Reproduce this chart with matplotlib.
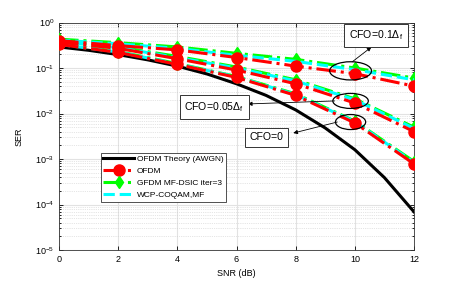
import numpy as np
import matplotlib
matplotlib.use("Agg")
import matplotlib.pyplot as plt
from matplotlib.patches import Ellipse
from matplotlib.ticker import LogLocator, NullFormatter

plt.rcParams['font.family'] = ['Liberation Sans', 'DejaVu Sans']
plt.rcParams['mathtext.fontset'] = 'custom'
plt.rcParams['mathtext.rm'] = 'Liberation Sans'
plt.rcParams['mathtext.it'] = 'Liberation Sans'

# theory curve (read at every dB)
snr_theory = [0, 1, 2, 3, 4, 5, 6, 7, 8, 9, 10, 11, 12]
ser_theory = [0.29, 0.245, 0.197, 0.151, 0.110, 0.074, 0.045, 0.025,
              0.012, 0.0048, 0.0016, 0.00039, 0.000069]

snr = [0, 2, 4, 6, 8, 10, 12]

# CFO = 0
ofdm_0 = [0.33, 0.22, 0.12, 0.062, 0.025, 0.0062, 0.00078]
gfdm_0 = [0.34, 0.23, 0.125, 0.065, 0.027, 0.0068, 0.00088]
wcp_0 = [0.33, 0.225, 0.123, 0.064, 0.026, 0.0066, 0.00084]

# CFO = 0.05 Df
ofdm_05 = [0.37, 0.27, 0.16, 0.09, 0.045, 0.017, 0.0040]
gfdm_05 = [0.39, 0.29, 0.18, 0.105, 0.055, 0.021, 0.0050]
wcp_05 = [0.38, 0.28, 0.17, 0.10, 0.052, 0.020, 0.0047]

# CFO = 0.1 Df
ofdm_1 = [0.40, 0.31, 0.25, 0.17, 0.11, 0.075, 0.040]
gfdm_1 = [0.43, 0.36, 0.29, 0.21, 0.155, 0.10, 0.060]
wcp_1 = [0.41, 0.34, 0.27, 0.19, 0.14, 0.092, 0.055]

fig = plt.figure(figsize=(4.57, 2.82), dpi=100)
ax = fig.add_axes([59 / 457, 32 / 282, 355 / 457, 227.5 / 282])

ax.semilogy(snr_theory, ser_theory, '-', color='k', lw=2.2, label='OFDM Theory (AWGN)')
first = True
for o, g, w in [(ofdm_0, gfdm_0, wcp_0), (ofdm_05, gfdm_05, wcp_05), (ofdm_1, gfdm_1, wcp_1)]:
    ax.semilogy(snr, g, '-.', color='#00ff00', lw=2.2, marker='d', ms=6.5,
                label='GFDM MF-DSIC iter=3' if first else None, zorder=3)
    ax.semilogy(snr, w, '--', color='#00ffff', lw=2.2,
                label='WCP-COQAM,MF' if first else None, zorder=3)
    ax.semilogy(snr, o, '-.', color='#ff0000', lw=2.2, marker='o', ms=8,
                label='OFDM' if first else None, zorder=4)
    first = False

ax.set_xlim(0, 12)
ax.set_ylim(1e-5, 1)
ax.set_xticks(snr)
ax.yaxis.set_major_locator(LogLocator(base=10, numticks=10))
ax.yaxis.set_minor_locator(LogLocator(base=10, subs=np.arange(2, 10), numticks=10))
ax.yaxis.set_minor_formatter(NullFormatter())
ax.grid(True, which='major', color='#e2e2e2', lw=0.8)
ax.grid(True, which='minor', color='#cccccc', lw=0.5, ls=':')
ax.tick_params(which='both', direction='in', top=True, right=True, labelsize=6.5, width=0.6)
ax.tick_params(which='major', length=3)
ax.tick_params(which='minor', length=1.5)
for s in ax.spines.values():
    s.set_linewidth(0.6)
    s.set_color('#333333')
ax.set_xlabel('SNR (dB)', fontsize=6.5, labelpad=4)
ax.set_ylabel('SER', fontsize=6.5, labelpad=8)

h, l = ax.get_legend_handles_labels()
order = [l.index('OFDM Theory (AWGN)'), l.index('OFDM'), l.index('GFDM MF-DSIC iter=3'), l.index('WCP-COQAM,MF')]
leg = ax.legend([h[i] for i in order], [l[i] for i in order], loc='upper left',
                bbox_to_anchor=(0.117, 0.428), fontsize=6, handlelength=3.7,
                fancybox=False, edgecolor='#333333', framealpha=1,
                borderpad=0.35, labelspacing=0.5, handletextpad=0.3, borderaxespad=0)
leg.get_frame().set_linewidth(0.6)

to_axes = ax.transData + ax.transAxes.inverted()
bbox = dict(boxstyle='square,pad=0.45', fc='white', ec='#333333', lw=0.7)

# ellipse size (axes fraction), arrow target (axes fraction)
groups = [
    (gfdm_1[5], ofdm_1[5], 0.118, 0.08, (0.88, 0.892), 'up'),
    (gfdm_05[5], ofdm_05[5], 0.1, 0.066, (0.532, 0.642), 'left'),
    (gfdm_0[5], ofdm_0[5], 0.085, 0.066, (0.66, 0.514), 'left'),
]
for yg, yr, w, hgt, tgt, side in groups:
    cx, cy = to_axes.transform((10, np.sqrt(yg * yr)))
    cx -= 0.012
    ax.add_patch(Ellipse((cx, cy), w, hgt, transform=ax.transAxes, fill=False,
                         ec='k', lw=0.9, zorder=6))
    start = (cx + 0.005, cy + hgt / 2) if side == 'up' else (cx - w / 2 + 0.005, cy)
    ax.annotate('', xy=tgt, xycoords='axes fraction', xytext=start,
                textcoords='axes fraction',
                arrowprops=dict(arrowstyle='-|>', color='k', lw=0.6, mutation_scale=6,
                                shrinkA=0, shrinkB=0),
                zorder=6)

ax.text(0.893, 0.943, r'CFO=0.1$\Delta_f$', transform=ax.transAxes, fontsize=7.6,
        ha='center', va='center', bbox=bbox, zorder=7)
ax.text(0.522, 0.629, r'CFO=0.05$\Delta_f$', transform=ax.transAxes, fontsize=7.6,
        ha='right', va='center', bbox=bbox, zorder=7)
ax.text(0.632, 0.495, 'CFO=0', transform=ax.transAxes, fontsize=7.6,
        ha='right', va='center', bbox=bbox, zorder=7)

fig.savefig('out.png', dpi=100)
